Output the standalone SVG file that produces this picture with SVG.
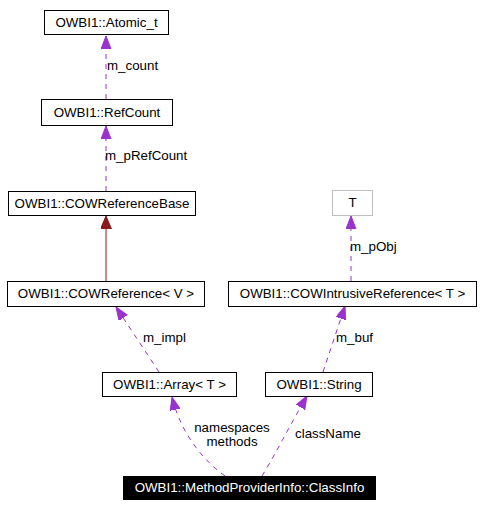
<svg xmlns="http://www.w3.org/2000/svg" width="480" height="507" viewBox="0 0 480 507">
<style>
.box{fill:#fff;stroke:#000;stroke-width:1}
.ghost{fill:#fff;stroke:#bfbfbf;stroke-width:1}
.focus{fill:#000;stroke:#000;stroke-width:1}
text{font-family:"Liberation Sans",Arial,sans-serif;font-size:13.33px;fill:#000}
.nt{text-anchor:middle}
.wt{fill:#fff}
.use{fill:none;stroke:#9a32cd;stroke-width:1;stroke-dasharray:5,5}
.inh{fill:none;stroke:#8b1a1a;stroke-width:1}
</style>
<defs>
<marker id="pa" markerUnits="userSpaceOnUse" markerWidth="14" markerHeight="11" refX="13" refY="5" orient="auto">
<path d="M0,0 L13,5 L0,10 z" fill="#9a32cd" stroke="#9a32cd" stroke-width="1"/>
</marker>
<marker id="ra" markerUnits="userSpaceOnUse" markerWidth="14" markerHeight="12" refX="13" refY="5.5" orient="auto">
<path d="M0,0 L13,5.5 L0,11 z" fill="#8b1a1a" stroke="#8b1a1a" stroke-width="1"/>
</marker>
</defs>
<g id="connectors">
<path class="use" d="M106,99 L106,36" marker-end="url(#pa)"/>
<text x="107" y="70">m_count</text>
<path class="use" d="M106,191 L106,126" marker-end="url(#pa)"/>
<text x="105" y="160">m_pRefCount</text>
<path class="inh" d="M106,281 L106,216" marker-end="url(#ra)"/>
<path class="use" d="M351,281 L351,216" marker-end="url(#pa)"/>
<text x="350" y="251">m_pObj</text>
<path class="use" d="M159,372 L116,307" marker-end="url(#pa)"/>
<text x="143" y="342">m_impl</text>
<path class="use" d="M323,372 L345,306" marker-end="url(#pa)"/>
<text x="336" y="342">m_buf</text>
<path class="use" d="M225,476 C200,458 180,430 172,397" marker-end="url(#pa)"/>
<text class="nt" x="232" y="432">namespaces</text>
<text class="nt" x="232" y="446">methods</text>
<path class="use" d="M262,476 C275,455 290,425 307,396" marker-end="url(#pa)"/>
<text x="295" y="438">className</text>
</g>
<g id="atomic">
<rect class="box" x="44.5" y="10.5" width="124" height="24"/>
<text class="nt" x="106.5" y="27">OWBI1::Atomic_t</text>
</g>
<g id="refcount">
<rect class="box" x="41.5" y="99.5" width="131" height="26"/>
<text class="nt" x="107" y="117">OWBI1::RefCount</text>
</g>
<g id="cowrefbase">
<rect class="box" x="8.5" y="191.5" width="187" height="24"/>
<text class="nt" x="102" y="208">OWBI1::COWReferenceBase</text>
</g>
<g id="tnode">
<rect class="ghost" x="332.5" y="190.5" width="40" height="25"/>
<text class="nt" x="352.5" y="207">T</text>
</g>
<g id="cowref">
<rect class="box" x="7.5" y="281.5" width="197" height="25"/>
<text class="nt" x="106" y="298">OWBI1::COWReference&lt; V &gt;</text>
</g>
<g id="cowintrusive">
<rect class="box" x="228.5" y="281.5" width="248" height="25"/>
<text class="nt" x="352.5" y="298">OWBI1::COWIntrusiveReference&lt; T &gt;</text>
</g>
<g id="array">
<rect class="box" x="102.5" y="372.5" width="134" height="24"/>
<text class="nt" x="169.5" y="389">OWBI1::Array&lt; T &gt;</text>
</g>
<g id="string">
<rect class="box" x="265.5" y="372.5" width="107" height="24"/>
<text class="nt" x="319" y="389">OWBI1::String</text>
</g>
<g id="classinfo">
<rect class="focus" x="123.5" y="476.5" width="252" height="23"/>
<text class="nt wt" x="249.5" y="492">OWBI1::MethodProviderInfo::ClassInfo</text>
</g>
</svg>
